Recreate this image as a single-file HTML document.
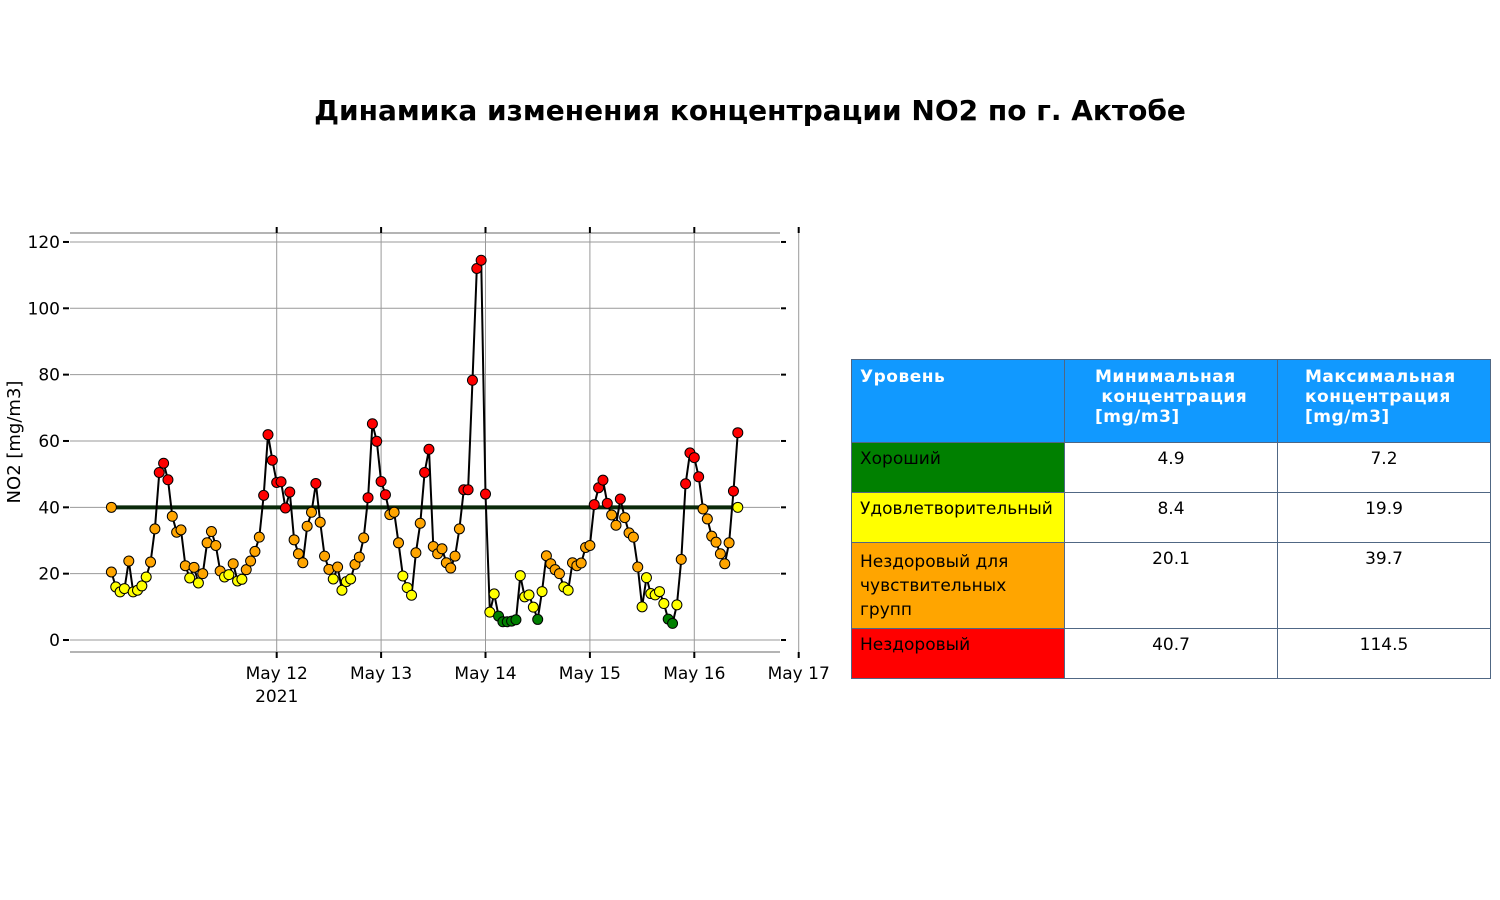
<!DOCTYPE html>
<html><head><meta charset="utf-8">
<style>
body{margin:0;background:#fff;width:1500px;height:900px;overflow:hidden;font-family:"DejaVu Sans","Liberation Sans",sans-serif;}
#title{position:absolute;left:0;width:1500px;top:94px;text-align:center;font-weight:bold;font-size:28px;color:#000;}
table{position:absolute;left:851px;top:359px;border-collapse:collapse;font-size:17px;}
td{border:1px solid #506784;vertical-align:top;padding:6px 8px;box-sizing:border-box;}
th{border:1px solid #506784;background:#1199ff;color:#fff;text-align:left;vertical-align:top;padding:7px 8px;font-weight:bold;box-sizing:border-box;letter-spacing:0.5px;}
td.n{text-align:center;}
</style></head><body>
<div id="title">Динамика изменения концентрации NO2 по г. Актобе</div>
<svg id="chart" width="1500" height="900" style="position:absolute;left:0;top:0"></svg>
<table>
<tr style="height:83px"><th style="width:213px">Уровень</th><th style="width:213px;padding-left:30px">Минимальная<br>&nbsp;концентрация<br>[mg/m3]</th><th style="width:213px;padding-left:27px">Максимальная<br>концентрация<br>[mg/m3]</th></tr>
<tr style="height:50px"><td style="background:#008000">Хороший</td><td class="n">4.9</td><td class="n">7.2</td></tr>
<tr style="height:50px"><td style="background:#ffff00">Удовлетворительный</td><td class="n">8.4</td><td class="n">19.9</td></tr>
<tr style="height:84px"><td style="background:#ffa500;line-height:24px;padding-top:7px">Нездоровый для чувствительных групп</td><td class="n">20.1</td><td class="n">39.7</td></tr>
<tr style="height:50px"><td style="background:#ff0000">Нездоровый</td><td class="n">40.7</td><td class="n">114.5</td></tr>
</table>
<script>
const startHour = 10; // May 11 10:00
const values = [20.5,16,14.5,15.5,23.8,14.5,15,16.3,19,23.5,33.5,50.5,53.3,48.3,37.3,32.5,33.2,22.4,18.7,21.9,17.2,20,29.3,32.7,28.5,20.8,19,19.7,23,17.8,18.3,21.2,23.8,26.7,31,43.6,61.9,54.2,47.5,47.7,39.8,44.6,30.2,26,23.3,34.3,38.5,47.2,35.5,25.3,21.3,18.4,22,15,17.6,18.4,22.8,25,30.8,42.9,65.2,59.9,47.8,43.8,37.8,38.5,29.3,19.3,15.8,13.5,26.3,35.2,50.5,57.5,28.2,26,27.5,23.3,21.7,25.3,33.5,45.3,45.3,78.3,112,114.5,44,8.4,13.9,7.2,5.5,5.5,5.7,6.1,19.4,13,13.6,9.9,6.2,14.6,25.4,23,21.2,20,16,15,23.3,22.4,23.2,27.9,28.5,40.8,45.9,48.2,41.2,37.7,34.6,42.5,36.9,32.3,31,22,10,18.8,14,13.6,14.6,11,6.3,5,10.6,24.3,47.1,56.4,55,49.2,39.5,36.5,31.3,29.5,26,23,29.3,44.9,62.5];
const thresholdValue = 40;
const yTicks = [0,20,40,60,80,100,120];
const dayLabels = ["May 12","May 13","May 14","May 15","May 16","May 17"];
const levelLimits = [7.2,19.9,39.7];
const levelColors = ["#008000","#ffff00","#ffa500","#ff0000"];

const svg = document.getElementById('chart');
const NS = 'http://www.w3.org/2000/svg';
const dayPx = 104.4, x0 = 172.3; // May 12 00:00
function xScale(h){ return x0 + (h - 24) / 24 * dayPx; } // h hours since May 11 00:00
function yScale(v){ return 640 - v * 3.317; }
function mk(tag, attrs){ const e=document.createElementNS(NS,tag); for(const k in attrs) e.setAttribute(k, attrs[k]); svg.appendChild(e); return e; }
function colorFor(v){ for(let i=0;i<levelLimits.length;i++) if(v<=levelLimits[i]) return levelColors[i]; return levelColors[3]; }

// frame lines
let e = mk('line',{x1:70,x2:780,y1:233,y2:233,stroke:'#888','stroke-width':1.2});


e = mk('line',{x1:70,x2:780,y1:652,y2:652,stroke:'#888','stroke-width':1.2});



yTicks.forEach(t=>{
  const y=yScale(t);
  let g=mk('line',{x1:70,x2:780,y1:y,y2:y,stroke:'#999','stroke-width':1});
  
  
  mk('line',{x1:63,x2:69,y1:y,y2:y,stroke:'#000','stroke-width':2});
  mk('line',{x1:781,x2:786,y1:y,y2:y,stroke:'#000','stroke-width':2});
  let tx=mk('text',{x:60,y:y+6,'text-anchor':'end','font-size':17,fill:'#000'});
  tx.textContent=t;
  
  
});
dayLabels.forEach((d,i)=>{
  const x=xScale(24*(i+2));
  let g=mk('line',{x1:x,x2:x,y1:228,y2:652,stroke:'#999','stroke-width':1});
  
  
  mk('line',{x1:x,x2:x,y1:227,y2:233,stroke:'#000','stroke-width':2});
  mk('line',{x1:x,x2:x,y1:652,y2:658,stroke:'#000','stroke-width':2});
  let tx=mk('text',{x:x,y:679,'text-anchor':'middle','font-size':17,fill:'#000'});
  tx.textContent=d;
  
  
});
let yr=mk('text',{x:xScale(48),y:702,'text-anchor':'middle','font-size':17,fill:'#000'});
yr.textContent='2021';


let yt=mk('text',{x:0,y:0,'text-anchor':'middle','font-size':18,fill:'#000',transform:'translate(20,442) rotate(-90)'});
yt.textContent='NO2 [mg/m3]';



// threshold line
const hx1=xScale(startHour), hx2=xScale(startHour+values.length-1);
let th=mk('line',{x1:hx1,x2:hx2,y1:yScale(thresholdValue),y2:yScale(thresholdValue),stroke:'#0a2a0a','stroke-width':4});


let tm1=mk('circle',{cx:hx1,cy:yScale(thresholdValue),r:5,fill:'#ffa500',stroke:'#000','stroke-width':1});


let tm2=mk('circle',{cx:hx2,cy:yScale(thresholdValue),r:5,fill:'#ffff00',stroke:'#000','stroke-width':1});



// series line
const pts=values.map((v,i)=>xScale(startHour+i).toFixed(1)+','+yScale(v).toFixed(1)).join(' ');
let pl=mk('polyline',{points:pts,fill:'none',stroke:'#000','stroke-width':2});


values.forEach((v,i)=>{
  let c=mk('circle',{cx:xScale(startHour+i),cy:yScale(v),r:5,fill:colorFor(v),stroke:'#000','stroke-width':1});
  
  
});
</script>
</body></html>
